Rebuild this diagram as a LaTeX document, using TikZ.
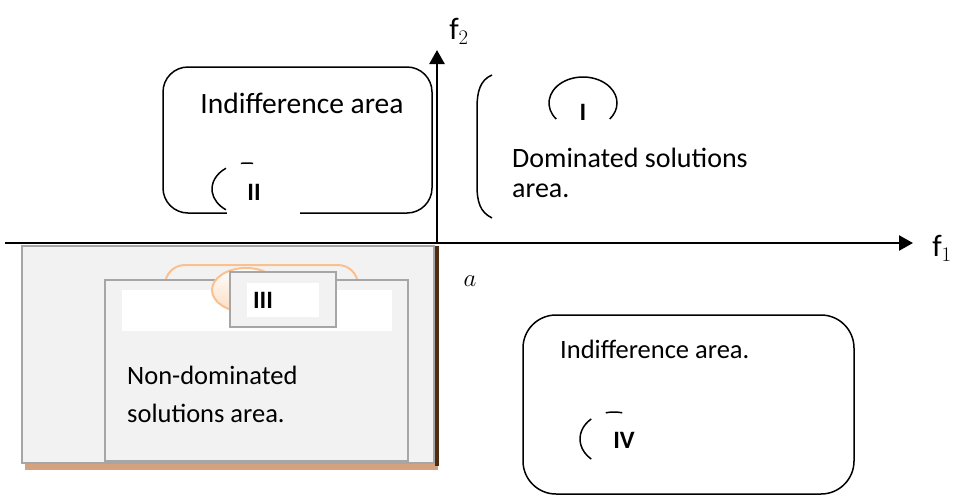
\documentclass[tikz,border=0pt]{standalone}
\usepackage{fontspec}
\setmainfont{Carlito}
\usetikzlibrary{arrows.meta}
\definecolor{boxgray}{HTML}{F2F2F2}
\definecolor{edgegray}{HTML}{A6A6A6}
\definecolor{peach}{HTML}{FAC090}
\definecolor{shadowtan}{HTML}{D4A27E}
\definecolor{axisbrown}{HTML}{4F2C0F}

\begin{document}
\begin{tikzpicture}[x=1pt, y=-1pt,
  axis/.style={line width=2.5pt, -{Triangle[length=14pt,width=15pt]}},
  region/.style={line width=1.5pt, rounded corners=#1},
  frame/.style={draw=edgegray, line width=2.5pt, fill=boxgray},
  area/.style={inner sep=0pt, font=\fontsize{28}{30}\selectfont},
  roman/.style={inner sep=0pt, font=\fontsize{25}{28}\selectfont\bfseries},
  sym/.style={inner sep=0pt, font=\fontsize{31}{34}\selectfont}]
  \useasboundingbox (0,0) rectangle (958,496);

  % axes
  \coordinate (O) at (437,243);
  \coordinate (xstart) at (5,243);
  \coordinate (xend) at (913,243);
  \coordinate (yend) at (437,50);
  \draw[axis] (xstart) -- (xend);
  \draw[axis] (O) -- (yend);
  \node[sym] (f2) at (459,31) {$\mathrm{f}_2$};
  \node[sym] (f1) at (942,248) {$\mathrm{f}_1$};
  \node[sym, font=\fontsize{25}{30}\selectfont] (a) at (470,281) {$a$};

  % region II
  \draw[region=25] (163,67) rectangle (432,213);
  \fill[white] (227,200) rectangle (300,222);
  \node[area, anchor=base, font=\fontsize{29.5}{32}\selectfont] (indiffII) at (302,113) {Indifference area};
  \draw[line width=1.5pt] ([shift={(-127:35 and 26)}]247,189)
    arc[start angle=-127, end angle=-233, x radius=35, y radius=26];
  \draw[line width=1.5pt] ([shift={(-80:35 and 26)}]247,189)
    arc[start angle=-80, end angle=-100, x radius=35, y radius=26];
  \node[roman] (II) at (254,192) {II};

  % region I
  \draw[line width=1.5pt] (492,75) .. controls (480,80) and (477,92) .. (477,108)
    -- (477,185) .. controls (477,202) and (480,212) .. (492,218);
  \draw[line width=1.5pt] ([shift={(-218:34 and 26)}]583,103)
    arc[start angle=-218, end angle=38, x radius=34, y radius=26];
  \node[roman] (I) at (583,112) {I};
  \node[area, anchor=base west, align=left] (domI) at (512,197) {Dominated solutions\\area.};

  % region III
  \fill[shadowtan] (25,250) rectangle (438,470);
  \draw[axisbrown, line width=3.5pt] (437,246) -- (437,466);
  \draw[frame] (22,246) rectangle (434,463);
  \draw[peach, line width=2pt, fill=boxgray, rounded corners=20] (165,265) rectangle (358,330);
  \draw[frame] (105,280) rectangle (408,461);
  \fill[white] (122,290) rectangle (392,331);
  \draw[peach, line width=2pt, top color=white, bottom color=peach!55] (246,290) ellipse [x radius=34, y radius=22];
  \draw[frame] (230,272) rectangle (336,327);
  \fill[white] (247,283) rectangle (319,317);
  \node[roman] (III) at (263,300) {III};
  \node[area, anchor=base west, align=left, font=\fontsize{26.5}{38}\selectfont] (nondom) at (127,422) {Non-dominated\\solutions area.};

  % region IV
  \draw[region=33] (523,315) rectangle (854,494);
  \node[area, anchor=base west, font=\fontsize{26.5}{30}\selectfont] (indiffIV) at (560,358) {Indifference area.};
  \draw[line width=1.5pt] ([shift={(-132:34 and 27)}]614,439)
    arc[start angle=-132, end angle=-228, x radius=34, y radius=27];
  \draw[line width=1.5pt] ([shift={(-76:34 and 27)}]614,439)
    arc[start angle=-76, end angle=-104, x radius=34, y radius=27];
  \node[roman] (IV) at (624,440) {IV};
\end{tikzpicture}
\end{document}
